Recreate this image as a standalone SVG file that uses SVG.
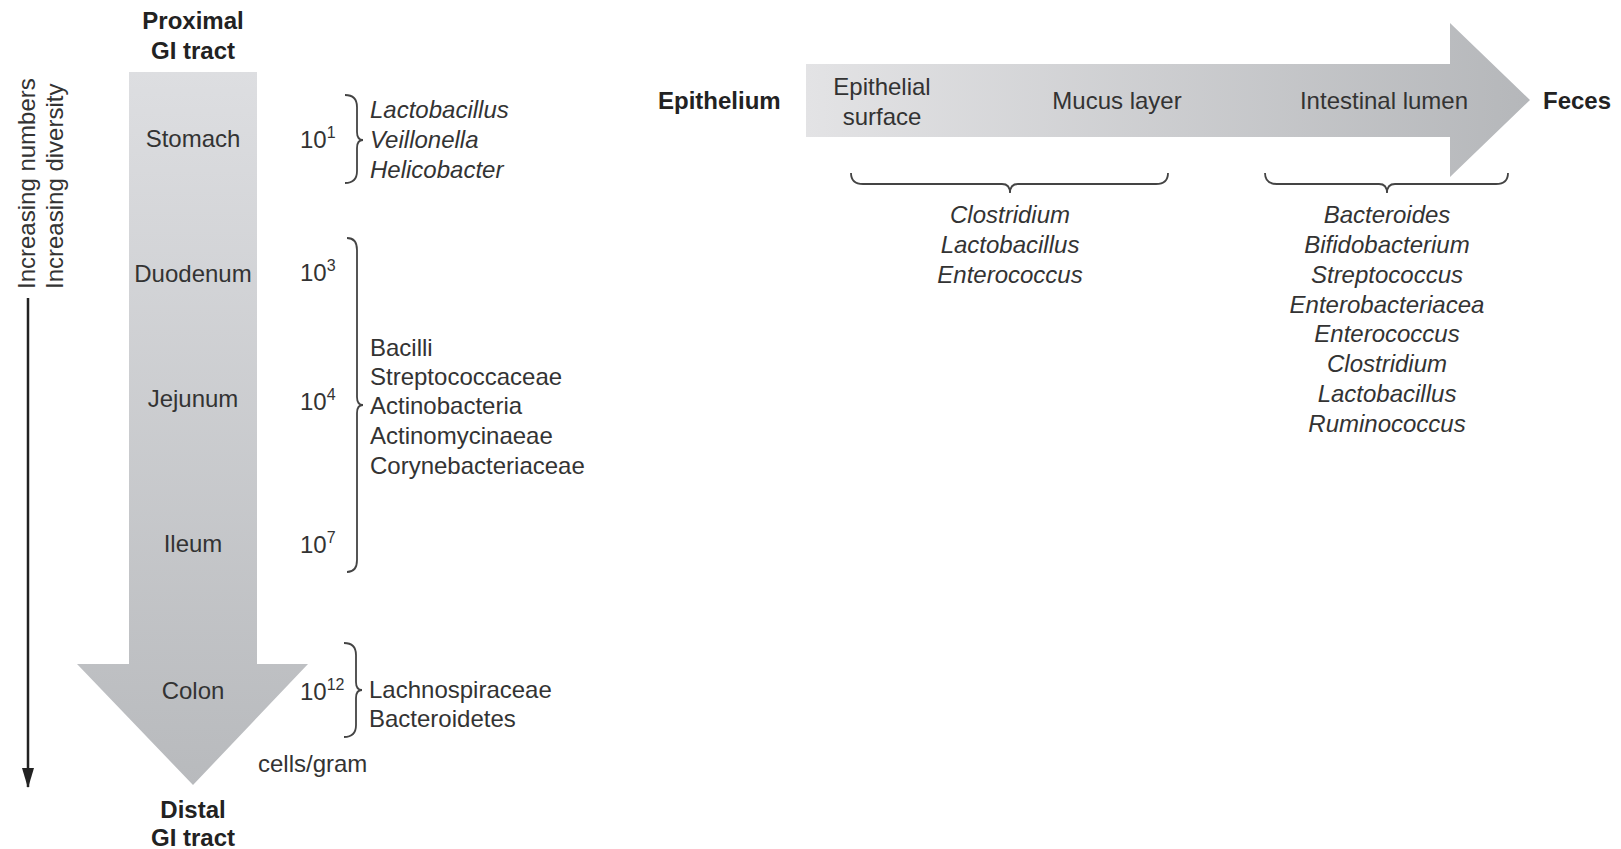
<svg xmlns="http://www.w3.org/2000/svg" width="1621" height="849" viewBox="0 0 1621 849">
<defs>
<linearGradient id="gv" x1="0" y1="0" x2="0" y2="1">
<stop offset="0" stop-color="#dddee1"/>
<stop offset="1" stop-color="#b8babd"/>
</linearGradient>
<linearGradient id="gh" x1="0" y1="0" x2="1" y2="0">
<stop offset="0" stop-color="#e3e3e5"/>
<stop offset="1" stop-color="#b5b7ba"/>
</linearGradient>
<marker id="ah" viewBox="0 0 12 20" refX="6" refY="20" markerWidth="12" markerHeight="20" markerUnits="userSpaceOnUse" orient="auto-start-reverse">
<path d="M0,0 L12,0 L6,20 Z" fill="#222"/>
</marker>
<style>
text{font-family:"Liberation Sans",Arial,sans-serif;font-size:24px;fill:#333}
.b{font-weight:bold;fill:#222}
.i{font-style:italic}
.m{text-anchor:middle}
.br{fill:none;stroke:#444;stroke-width:1.8}
</style>
</defs>
<rect width="1621" height="849" fill="#fff"/>

<g id="gi-arrow">
<path d="M129,72 L257,72 L257,664 L308,664 L193,785 L77,664 L129,664 Z" fill="url(#gv)"/>
</g>

<g id="axis">
<text transform="rotate(-90 35 289)" x="35" y="289">Increasing numbers</text>
<text transform="rotate(-90 63 289)" x="63" y="289">Increasing diversity</text>
</g>

<g id="connectors">
<line x1="28" y1="298" x2="28" y2="787" stroke="#222" stroke-width="2.5"/>
<path d="M22,768 L34,768 L28,788 Z" fill="#222"/>
<path class="br" d="M345,95 Q357,95 357,107 L357,132 Q357,140 363,140 Q357,140 357,148 L357,171 Q357,183 345,183"/>
<path class="br" d="M347,238 Q357,238 357,250 L357,397 Q357,405 363,405 Q357,405 357,413 L357,560 Q357,572 347,572"/>
<path class="br" d="M344,643 Q356,643 356,655 L356,682 Q356,690 362,690 Q356,690 356,698 L356,725 Q356,737 344,737"/>
<path class="br" d="M851,173 Q851,184 863,184 L1002,184 Q1010,184 1010,193 Q1010,184 1018,184 L1156,184 Q1168,184 1168,173"/>
<path class="br" d="M1265,173 Q1265,184 1277,184 L1379,184 Q1387,184 1387,193 Q1387,184 1395,184 L1496,184 Q1508,184 1508,173"/>
</g>

<g id="proximal">
<text class="b m" x="193" y="29">Proximal</text>
<text class="b m" x="193" y="59">GI tract</text>
</g>
<g id="distal">
<text class="b m" x="193" y="818">Distal</text>
<text class="b m" x="193" y="846">GI tract</text>
</g>

<g id="stomach">
<text class="m" x="193" y="147">Stomach</text>
<text x="300" y="148">10<tspan font-size="16" dy="-10">1</tspan></text>
<text class="i" x="370" y="118">Lactobacillus</text>
<text class="i" x="370" y="148">Veillonella</text>
<text class="i" x="370" y="178">Helicobacter</text>
</g>

<g id="duodenum">
<text class="m" x="193" y="282">Duodenum</text>
<text x="300" y="281">10<tspan font-size="16" dy="-10">3</tspan></text>
</g>
<g id="jejunum">
<text class="m" x="193" y="407">Jejunum</text>
<text x="300" y="410">10<tspan font-size="16" dy="-10">4</tspan></text>
</g>
<g id="ileum">
<text class="m" x="193" y="552">Ileum</text>
<text x="300" y="553">10<tspan font-size="16" dy="-10">7</tspan></text>
</g>
<g id="small-intestine-taxa">
<text x="370" y="356">Bacilli</text>
<text x="370" y="385">Streptococcaceae</text>
<text x="370" y="414">Actinobacteria</text>
<text x="370" y="444">Actinomycinaeae</text>
<text x="370" y="474">Corynebacteriaceae</text>
</g>

<g id="colon">
<text class="m" x="193" y="699">Colon</text>
<text x="300" y="700">10<tspan font-size="16" dy="-10">12</tspan></text>
<text x="369" y="698">Lachnospiraceae</text>
<text x="369" y="727">Bacteroidetes</text>
<text x="258" y="772">cells/gram</text>
</g>

<g id="lumen-arrow">
<path d="M806,64 L1450,64 L1450,23 L1530,100 L1450,177 L1450,137 L806,137 Z" fill="url(#gh)"/>
</g>

<g id="epithelium">
<text class="b" x="658" y="109">Epithelium</text>
</g>
<g id="epithelial-surface">
<text class="m" x="882" y="95">Epithelial</text>
<text class="m" x="882" y="125">surface</text>
</g>
<g id="mucus-layer">
<text class="m" x="1117" y="109">Mucus layer</text>
</g>
<g id="intestinal-lumen">
<text class="m" x="1384" y="109">Intestinal lumen</text>
</g>
<g id="feces">
<text class="b" x="1543" y="109">Feces</text>
</g>

<g id="mucosal-taxa">
<text class="i m" x="1010" y="223">Clostridium</text>
<text class="i m" x="1010" y="253">Lactobacillus</text>
<text class="i m" x="1010" y="283">Enterococcus</text>
</g>
<g id="luminal-taxa">
<text class="i m" x="1387" y="223">Bacteroides</text>
<text class="i m" x="1387" y="253">Bifidobacterium</text>
<text class="i m" x="1387" y="283">Streptococcus</text>
<text class="i m" x="1387" y="313">Enterobacteriacea</text>
<text class="i m" x="1387" y="342">Enterococcus</text>
<text class="i m" x="1387" y="372">Clostridium</text>
<text class="i m" x="1387" y="402">Lactobacillus</text>
<text class="i m" x="1387" y="432">Ruminococcus</text>
</g>
</svg>
